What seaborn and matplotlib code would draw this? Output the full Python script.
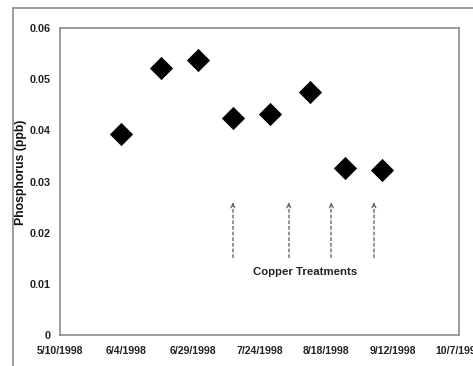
import pandas as pd
import matplotlib
matplotlib.use("Agg")
import matplotlib.pyplot as plt
from matplotlib.lines import Line2D
import seaborn as sns

# sample dates and phosphorus concentration
sample_dates = ["1998-06-02", "1998-06-17", "1998-07-01", "1998-07-14",
                "1998-07-28", "1998-08-12", "1998-08-25", "1998-09-08"]
phosphorus = [0.0392, 0.0522, 0.0537, 0.0424, 0.0431, 0.0475, 0.0326, 0.0322]

# copper treatment arrows
treatment_dates = ["1998-07-14", "1998-08-04", "1998-08-20", "1998-09-05"]
arrow_bottom = 0.015
arrow_top = 0.0259

x_tick_dates = ["1998-05-10", "1998-06-04", "1998-06-29", "1998-07-24",
                "1998-08-18", "1998-09-12", "1998-10-07"]
x_tick_labels = ["5/10/1998", "6/4/1998", "6/29/1998", "7/24/1998",
                 "8/18/1998", "9/12/1998", "10/7/1998"]
y_ticks = [0, 0.01, 0.02, 0.03, 0.04, 0.05, 0.06]
y_tick_labels = ["0", "0.01", "0.02", "0.03", "0.04", "0.05", "0.06"]

sns.set_style("white")
plt.rcParams["font.family"] = ["Liberation Sans", "DejaVu Sans"]
plt.rcParams["font.weight"] = "bold"

df = pd.DataFrame({"date": pd.to_datetime(sample_dates), "p": phosphorus})

gray = "#8c8c8c"
fig = plt.figure(figsize=(4.73, 3.66), dpi=100)
ax = fig.add_axes([60 / 473, 1 - 335 / 366, 399 / 473, 307 / 366])

# outer chart frame
fig.add_artist(Line2D([13 / 473, 1], [1 - 8 / 366, 1 - 8 / 366], color=gray, lw=1.2))
fig.add_artist(Line2D([13 / 473, 13 / 473], [0, 1 - 8 / 366], color=gray, lw=1.2))

sns.scatterplot(data=df, x="date", y="p", marker="D", s=140, color="black",
                linewidth=0, ax=ax, zorder=3)

for d in pd.to_datetime(treatment_dates):
    ax.vlines(d, arrow_bottom, arrow_top - 0.0003, colors="#777777",
              linestyles=(0, (2.5, 1.2)), lw=1.1)
    ax.annotate("", xy=(d, arrow_top), xytext=(d, arrow_top - 0.001),
                arrowprops=dict(arrowstyle="->", color="#666666", lw=0.9,
                                mutation_scale=7))

ax.text(pd.Timestamp("1998-08-10"), 0.0123, "Copper Treatments", ha="center",
        va="center", fontsize=8.2, fontweight="bold", color="#222222")

ax.set_xlim(pd.Timestamp(x_tick_dates[0]), pd.Timestamp(x_tick_dates[-1]))
ax.set_ylim(0, 0.06)
ax.set_xticks(pd.to_datetime(x_tick_dates))
ax.set_xticklabels(x_tick_labels, fontsize=7.6, fontweight="bold", color="#222222")
ax.set_yticks(y_ticks)
ax.set_yticklabels(y_tick_labels, fontsize=7.8, fontweight="bold", color="#222222")
ax.tick_params(axis="x", direction="inout", length=4, color=gray, pad=6)
ax.tick_params(axis="y", direction="out", length=4, color=gray, pad=3)
ax.set_xlabel("")
ax.set_ylabel("Phosphorus (ppb)", fontsize=8.8, fontweight="bold",
              family=["Liberation Sans", "DejaVu Sans"], color="#111111",
              bbox=dict(facecolor="white", edgecolor="none", pad=2))
ax.yaxis.set_label_coords(-0.083, 0.531)

for sp in ax.spines.values():
    sp.set_visible(True)
    sp.set_color(gray)
    sp.set_linewidth(1.2)

fig.savefig("out.png", dpi=100)
